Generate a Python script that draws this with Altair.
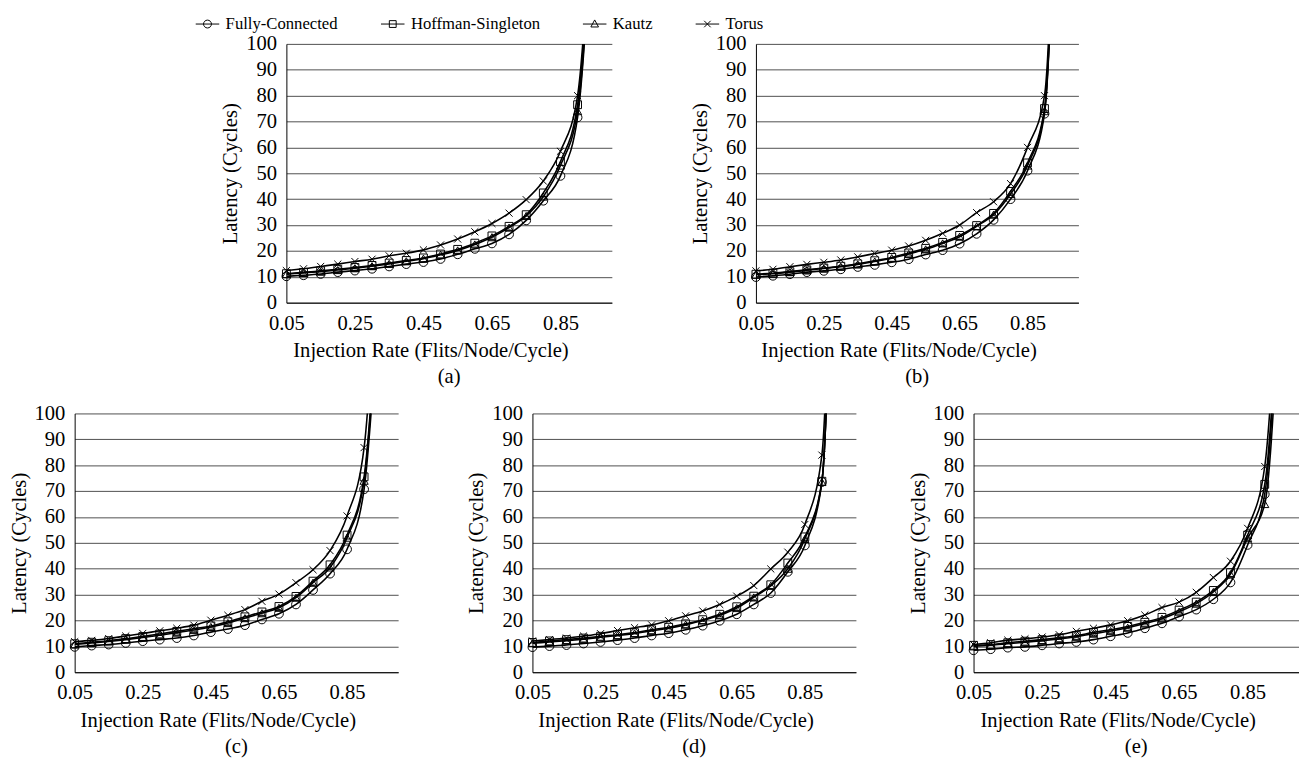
import altair as alt
import pandas as pd

RATES = [0.05, 0.10, 0.15, 0.20, 0.25, 0.30, 0.35, 0.40, 0.45, 0.50,
         0.55, 0.60, 0.65, 0.70, 0.75, 0.80, 0.85, 0.90, 0.95]
SERIES = ["Fully-Connected", "Hoffman-Singleton", "Kautz", "Torus"]
PANELS = ["(a)", "(b)", "(c)", "(d)", "(e)"]
X_TICKS = [0.05, 0.25, 0.45, 0.65, 0.85]
Y_TICKS = [0, 10, 20, 30, 40, 50, 60, 70, 80, 90, 100]

# panel (a)
A_FC = [10.2, 10.6, 11.1, 11.8, 12.4, 13.1, 14.0, 14.9, 15.7, 16.9, 18.7, 20.8, 22.9, 26.4, 31.8, 39.4, 49.0, 71.6, 170]
A_HS = [11.2, 11.7, 12.3, 12.9, 13.6, 14.4, 15.3, 16.3, 17.3, 18.8, 20.6, 23.0, 25.8, 29.5, 34.0, 42.4, 54.5, 76.5, 175]
A_KZ = [11.0, 11.5, 12.0, 12.6, 13.3, 14.1, 15.0, 16.0, 17.0, 18.5, 20.2, 22.5, 25.3, 29.0, 33.5, 41.0, 53.0, 74.0, 172]
A_TR = [12.4, 13.1, 14.0, 14.9, 15.9, 16.8, 18.1, 19.1, 20.4, 22.3, 24.6, 27.4, 30.6, 34.6, 39.8, 47.0, 58.5, 80.0, 180]
# panel (b)
B_FC = [9.9, 10.4, 11.0, 11.8, 12.3, 12.9, 13.8, 14.6, 15.6, 16.8, 18.6, 20.3, 22.8, 26.6, 32.0, 40.0, 51.0, 73.0, 260]
B_HS = [11.0, 11.4, 12.0, 12.7, 13.4, 14.1, 15.0, 16.2, 17.5, 19.2, 21.0, 23.3, 26.0, 29.8, 34.5, 43.0, 54.0, 75.0, 265]
B_KZ = [10.8, 11.2, 11.8, 12.5, 13.2, 13.9, 14.8, 15.9, 17.2, 18.8, 20.6, 22.9, 25.5, 29.5, 34.0, 42.0, 53.0, 74.0, 262]
B_TR = [12.3, 12.9, 13.9, 14.8, 15.6, 16.5, 17.7, 19.0, 20.3, 21.9, 24.1, 26.8, 30.0, 34.8, 39.0, 46.0, 60.0, 80.0, 270]
# panel (c)
C_FC = [9.8, 10.3, 10.7, 11.3, 12.0, 12.6, 13.2, 14.2, 15.5, 16.7, 18.2, 20.4, 22.6, 26.2, 31.8, 38.1, 47.5, 70.7, 160]
C_HS = [11.0, 11.6, 12.2, 13.0, 13.8, 14.8, 15.8, 16.8, 17.9, 19.5, 21.4, 23.3, 25.4, 29.3, 35.2, 41.5, 53.0, 75.5, 165]
C_KZ = [10.7, 11.3, 11.9, 12.6, 13.4, 14.3, 15.3, 16.3, 17.5, 19.0, 20.9, 22.8, 24.9, 28.8, 34.6, 40.5, 52.0, 74.0, 165]
C_TR = [11.8, 12.3, 13.0, 14.0, 15.0, 16.0, 17.0, 18.2, 20.1, 22.0, 24.2, 27.4, 30.2, 34.6, 39.6, 47.0, 60.4, 86.8, 200]
# panel (d)
D_FC = [9.7, 10.1, 10.5, 11.1, 11.7, 12.4, 13.2, 14.2, 15.1, 16.4, 18.0, 19.9, 22.4, 26.2, 30.6, 38.8, 49.0, 73.5, 300]
D_HS = [11.5, 12.1, 12.6, 13.2, 13.9, 14.5, 15.3, 16.4, 17.4, 18.7, 20.3, 22.4, 25.3, 29.4, 33.8, 42.2, 52.3, 73.8, 300]
D_KZ = [11.2, 11.7, 12.2, 12.8, 13.5, 14.2, 15.0, 16.0, 17.0, 18.4, 20.0, 22.0, 24.8, 28.9, 33.4, 40.0, 51.5, 73.5, 300]
D_TR = [12.1, 12.6, 13.2, 14.0, 14.9, 16.1, 17.2, 18.3, 19.9, 21.8, 23.7, 26.2, 29.4, 33.5, 39.9, 46.4, 57.1, 83.9, 320]
# panel (e)
E_FC = [8.5, 8.9, 9.5, 9.8, 10.4, 11.1, 11.7, 12.6, 13.9, 15.2, 17.0, 18.9, 21.5, 24.2, 28.2, 34.7, 49.2, 68.8, 170]
E_HS = [10.4, 10.7, 11.4, 12.0, 12.6, 13.3, 14.1, 15.4, 16.4, 17.7, 19.3, 21.2, 24.0, 27.1, 31.6, 38.5, 53.0, 72.6, 175]
E_KZ = [10.0, 10.4, 11.0, 11.6, 12.2, 12.9, 13.7, 14.9, 15.9, 17.2, 18.8, 20.7, 23.4, 26.5, 31.0, 37.9, 51.8, 65.0, 165]
E_TR = [10.7, 11.4, 12.4, 12.9, 13.6, 14.5, 15.8, 17.0, 18.3, 19.9, 22.1, 25.0, 27.1, 30.9, 36.6, 42.9, 55.6, 79.5, 180]

PANEL_VALUES = {
    "(a)": [A_FC, A_HS, A_KZ, A_TR],
    "(b)": [B_FC, B_HS, B_KZ, B_TR],
    "(c)": [C_FC, C_HS, C_KZ, C_TR],
    "(d)": [D_FC, D_HS, D_KZ, D_TR],
    "(e)": [E_FC, E_HS, E_KZ, E_TR],
}

rows = []
for p in PANELS:
    for s, vals in zip(SERIES, PANEL_VALUES[p]):
        for r, v in zip(RATES, vals):
            rows.append({"panel": p, "series": s, "rate": r, "latency": v})
df = pd.DataFrame(rows)

FONT = "Liberation Serif"
MARKER_SHAPE = {"Fully-Connected": "circle", "Hoffman-Singleton": "square",
                "Kautz": "triangle-up", "Torus": "M-1,-1L1,1M-1,1L1,-1"}
MARKER_SIZE = {"Fully-Connected": 80, "Hoffman-Singleton": 64,
               "Kautz": 70, "Torus": 52}
# legend glyphs: a short line with the marker drawn across it (unit = 6 px)
LEGEND_PATHS = [
    "M-2,0L2,0M-0.67,0A0.67,0.67,0,1,1,0.67,0A0.67,0.67,0,1,1,-0.67,0",
    "M-2,0L2,0M-0.58,-0.58L0.58,-0.58L0.58,0.58L-0.58,0.58Z",
    "M-2,0L2,0M0,-0.7L0.65,0.5L-0.65,0.5Z",
    "M-2,0L2,0M-0.55,-0.55L0.55,0.55M-0.55,0.55L0.55,-0.55",
]
H = 264


def panel(label, width, with_legend=False):
    d = df[df.panel == label]
    base = alt.Chart(d)
    x = alt.X("rate:Q",
              scale=alt.Scale(domain=[0.05, 1.0], nice=False, zero=False),
              axis=alt.Axis(values=X_TICKS, format=".2f", grid=False,
                            title="Injection Rate (Flits/Node/Cycle)",
                            titleX=width / 2 - 19, labelPadding=10, titlePadding=7))
    y = alt.Y("latency:Q",
              scale=alt.Scale(domain=[0, 100], nice=False, zero=True),
              axis=alt.Axis(values=Y_TICKS, grid=True, title="Latency (Cycles)",
                            labelPadding=10, titlePadding=5))
    layers = [base.mark_line(interpolate="monotone", clip=True, color="black",
                             strokeWidth=1.6).encode(x=x, y=y, detail="series:N")]
    for s in SERIES:
        layers.append(
            base.transform_filter((alt.datum.series == s) & (alt.datum.latency <= 100))
            .mark_point(shape=MARKER_SHAPE[s], size=MARKER_SIZE[s], filled=False,
                        color="black", strokeWidth=1, opacity=1)
            .encode(x=x, y=y))
    if with_legend:
        layers.append(
            base.transform_filter(alt.datum.latency < 0)
            .mark_point(filled=False, color="black", opacity=1)
            .encode(x=x, y=y,
                    shape=alt.Shape("series:N",
                                    scale=alt.Scale(domain=SERIES, range=LEGEND_PATHS),
                                    legend=alt.Legend(
                                        title=None, orient="none", legendX=127, legendY=-29,
                                        columns=4, columnPadding=41, symbolSize=144,
                                        symbolStrokeWidth=1, symbolStrokeColor="black",
                                        symbolOpacity=1, labelFont=FONT, labelFontSize=17,
                                        labelColor="black", labelOffset=10, padding=0))))
    return alt.layer(*layers).properties(
        width=width, height=H,
        title=alt.TitleParams(label, orient="bottom", frame="group", anchor="middle",
                              font=FONT, fontSize=21, fontWeight="normal",
                              color="black", offset=6))


spacer = alt.Chart(pd.DataFrame({"v": [0]})).mark_rule(opacity=0).encode(
    x=alt.value(0), y=alt.value(0), y2=alt.value(1)).properties(width=69, height=10)

top = alt.hconcat(spacer, panel("(a)", 332, True), panel("(b)", 329), spacing=79)
bottom = alt.hconcat(panel("(c)", 330),
                     alt.hconcat(panel("(d)", 330), panel("(e)", 332), spacing=52),
                     spacing=69)

chart = alt.vconcat(top, bottom, spacing=16).properties(padding=0).configure_view(
    strokeWidth=0
).configure_axis(
    labelFont=FONT, titleFont=FONT, labelFontSize=21, titleFontSize=21,
    labelColor="black", titleColor="black", titleFontWeight="normal",
    domainColor="black", domainWidth=1, ticks=False, tickSize=0,
    gridColor="#4d4d4d", gridWidth=1, labelFlush=False, labelOverlap=False
)

chart.save("out.html", embed_options={"renderer": "svg", "actions": False})
